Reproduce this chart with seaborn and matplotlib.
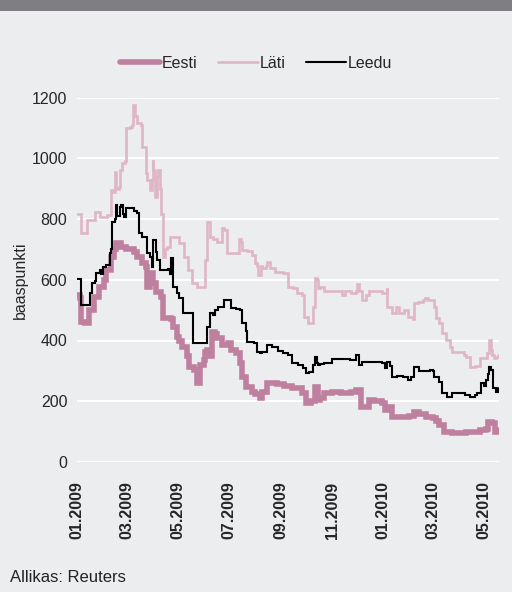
import numpy as np
import pandas as pd
import matplotlib
matplotlib.use("Agg")
import matplotlib.pyplot as plt
from matplotlib.lines import Line2D
import seaborn as sns

# ---------------- data ----------------
lati_dates = ["2009-01-01","2009-01-03","2009-01-06","2009-01-12","2009-01-13","2009-01-21","2009-01-22","2009-01-27",
              "2009-01-28","2009-02-04","2009-02-06","2009-02-10","2009-02-11","2009-02-13","2009-02-15","2009-02-17",
              "2009-02-20","2009-02-21","2009-02-24","2009-02-27","2009-02-28","2009-03-05","2009-03-07","2009-03-09",
              "2009-03-11","2009-03-13","2009-03-18","2009-03-19","2009-03-20","2009-03-24","2009-03-25","2009-03-29",
              "2009-03-31","2009-04-01","2009-04-02","2009-04-04","2009-04-06","2009-04-08","2009-04-10","2009-04-11",
              "2009-04-13","2009-04-16","2009-04-18","2009-04-22","2009-04-28","2009-05-03","2009-05-09","2009-05-13",
              "2009-05-18","2009-05-24","2009-05-30","2009-06-02","2009-06-05","2009-06-08","2009-06-12","2009-06-17",
              "2009-06-23","2009-06-25","2009-06-29","2009-07-08","2009-07-13","2009-07-15","2009-07-17","2009-07-23",
              "2009-07-28","2009-08-01","2009-08-04","2009-08-05","2009-08-08","2009-08-10","2009-08-14","2009-08-16",
              "2009-08-19","2009-08-25","2009-09-03","2009-09-09","2009-09-10","2009-09-15","2009-09-20","2009-09-26",
              "2009-09-29","2009-10-03","2009-10-07","2009-10-09","2009-10-12","2009-10-14","2009-10-15","2009-10-18",
              "2009-10-20",
              "2009-10-23","2009-11-07","2009-11-13","2009-11-17","2009-11-23","2009-11-29","2009-12-01","2009-12-03",
              "2009-12-07","2009-12-12","2009-12-15","2009-12-30","2010-01-05","2010-01-06","2010-01-11","2010-01-12",
              "2010-01-16","2010-01-20","2010-01-26","2010-01-30","2010-02-01","2010-02-05","2010-02-07","2010-02-11",
              "2010-02-17","2010-02-20","2010-02-23","2010-02-27","2010-03-03","2010-03-05","2010-03-09","2010-03-12",
              "2010-03-17","2010-03-21","2010-03-24","2010-04-02","2010-04-07","2010-04-10","2010-04-14","2010-04-20",
              "2010-04-26","2010-05-01","2010-05-05","2010-05-07","2010-05-10","2010-05-11","2010-05-13","2010-05-16",
              "2010-05-18"]
lati_values = [818, 818, 753, 753, 796, 796, 822, 822,
               806, 806, 812, 812, 895, 890, 954, 900,
               905, 960, 983, 990, 1099, 1102, 1110, 1174,
               1140, 1115, 1110, 1053, 1037, 950, 928, 895,
               930, 994, 960, 872, 938, 961, 900, 818,
               674, 700, 707, 740, 740, 720, 674, 632,
               589, 576, 576, 664, 790, 740, 735, 725,
               770, 765, 687, 687, 733, 725, 697, 695,
               681, 654, 645, 615, 645, 640, 645, 658,
               638, 625, 622, 622, 576, 572, 556, 550,
               477, 457, 457, 510, 605, 600, 572, 576,
               np.nan,
               562, 562, 549, 562, 556, 562, 586, 562,
               533, 549, 562, 556, 572, 510, 506, 490,
               510, 490, 500, 477, 477, 470, 523, 526,
               533, 539, 533, 533, 510, 474, 457, 424,
               401, 378, 362, 362, 352, 346, 313, 316,
               342, 342, 360, 401, 370, 352, 342, 345,
               352]

leedu_dates = ["2009-01-01","2009-01-03","2009-01-06","2009-01-12","2009-01-16","2009-01-19","2009-01-22","2009-01-24",
               "2009-01-28","2009-01-30","2009-02-01","2009-02-05","2009-02-09","2009-02-11","2009-02-12","2009-02-15",
               "2009-02-16","2009-02-18","2009-02-21","2009-02-23","2009-02-25","2009-02-26","2009-03-01","2009-03-08",
               "2009-03-10","2009-03-13","2009-03-16","2009-03-20","2009-03-25","2009-03-29","2009-03-31","2009-04-02",
               "2009-04-05","2009-04-06","2009-04-10","2009-04-13","2009-04-19","2009-04-22","2009-04-23","2009-04-25",
               "2009-04-30","2009-05-03","2009-05-07","2009-05-18","2009-05-19","2009-06-04","2009-06-05","2009-06-08",
               "2009-06-12","2009-06-14","2009-06-18","2009-06-23","2009-06-25","2009-07-01","2009-07-03","2009-07-09",
               "2009-07-14","2009-07-17","2009-07-21","2009-07-23","2009-07-31","2009-08-04","2009-08-07","2009-08-10",
               "2009-08-15","2009-08-21","2009-08-28","2009-09-03","2009-09-09","2009-09-14","2009-09-21","2009-09-27",
               "2009-10-01","2009-10-05","2009-10-09","2009-10-12","2009-10-14","2009-10-15","2009-10-18",
               "2009-10-20",
               "2009-10-23","2009-11-01","2009-11-14","2009-11-22","2009-11-24","2009-11-30","2009-12-03","2009-12-07",
               "2009-12-15","2009-12-30","2010-01-03","2010-01-06","2010-01-09","2010-01-11","2010-01-17","2010-01-24",
               "2010-01-30","2010-02-03","2010-02-07","2010-02-11","2010-02-13","2010-02-19","2010-02-26","2010-03-01",
               "2010-03-03","2010-03-09","2010-03-12","2010-03-18","2010-03-24","2010-04-02","2010-04-08","2010-04-14",
               "2010-04-20","2010-04-23","2010-04-28","2010-05-01","2010-05-04","2010-05-06","2010-05-07","2010-05-10",
               "2010-05-12","2010-05-16","2010-05-18"]
leedu_values = [601, 601, 516, 516, 556, 589, 595, 622,
                632, 620, 641, 648, 687, 700, 790, 800,
                845, 810, 840, 845, 815, 806, 836, 836,
                825, 819, 753, 740, 687, 674, 641, 730,
                690, 664, 632, 632, 635, 620, 671, 576,
                556, 539, 490, 490, 391, 391, 444, 490,
                484, 500, 510, 510, 533, 533, 506, 505,
                500, 457, 430, 395, 391, 362, 358, 362,
                385, 378, 365, 358, 352, 326, 319, 310,
                293, 296, 320, 346, 325, 319, 322,
                np.nan,
                326, 339, 339, 336, 336, 352, 319, 329,
                329, 326, 309, 329, 315, 280, 283, 280,
                270, 280, 313, 313, 300, 300, 303, 300,
                280, 263, 227, 214, 227, 227, 222, 214,
                222, 227, 260, 250, 270, 290, 313, 303,
                244, 230, 244]

eesti_dates = ["2009-01-01","2009-01-04","2009-01-06","2009-01-11","2009-01-15","2009-01-21","2009-01-27","2009-02-02",
               "2009-02-05","2009-02-11","2009-02-14","2009-02-16","2009-02-22","2009-03-01","2009-03-07","2009-03-10",
               "2009-03-13","2009-03-19","2009-03-24","2009-03-25","2009-03-29","2009-03-31","2009-04-02","2009-04-05",
               "2009-04-11","2009-04-13","2009-04-14","2009-04-23","2009-04-26","2009-04-30","2009-05-03","2009-05-06",
               "2009-05-12","2009-05-15","2009-05-21","2009-05-24","2009-05-27","2009-05-28","2009-06-01","2009-06-02",
               "2009-06-05","2009-06-08","2009-06-11","2009-06-14","2009-06-17","2009-06-23","2009-06-30","2009-07-04",
               "2009-07-10","2009-07-14","2009-07-17","2009-07-22","2009-07-29","2009-08-01","2009-08-07","2009-08-10",
               "2009-08-15","2009-08-27","2009-09-05","2009-09-14","2009-09-26","2009-10-01","2009-10-07","2009-10-12",
               "2009-10-15","2009-10-18",
               "2009-10-20",
               "2009-10-22","2009-11-01","2009-11-12","2009-11-24","2009-11-30","2009-12-06","2009-12-15","2009-12-21",
               "2009-12-30","2010-01-03","2010-01-06","2010-01-12","2010-01-20","2010-02-01","2010-02-07","2010-02-13",
               "2010-02-21","2010-03-01","2010-03-05","2010-03-09","2010-03-15","2010-03-24","2010-04-10","2010-04-26",
               "2010-05-04","2010-05-06","2010-05-11","2010-05-14","2010-05-18"]
eesti_values = [549, 540, 461, 457, 500, 543, 576, 599,
                632, 674, 700, 720, 707, 700, 700, 690,
                674, 654, 641, 576, 600, 622, 590, 559,
                543, 530, 474, 470, 444, 411, 400, 378,
                350, 313, 303, 260, 260, 319, 336, 362,
                370, 350, 428, 420, 408, 385, 391, 368,
                358, 326, 280, 247, 230, 225, 211, 230,
                260, 257, 250, 244, 227, 194, 201, 247,
                204, 210,
                np.nan,
                227, 230, 227, 230, 237, 181, 204, 200,
                194, 171, 181, 148, 148, 151, 164, 158,
                148, 145, 135, 122, 99, 95, 99, 105,
                109, 132, 128, 99, 105]

series_names = ["Eesti", "Läti", "Leedu"]
y_ticks = [0, 200, 400, 600, 800, 1000, 1200]
x_tick_dates = ["2009-01-01", "2009-03-01", "2009-05-01", "2009-07-01", "2009-09-01",
                "2009-11-01", "2010-01-01", "2010-03-01", "2010-05-01"]
x_tick_labels = ["01.2009", "03.2009", "05.2009", "07.2009", "09.2009",
                 "11.2009", "01.2010", "03.2010", "05.2010"]

# ---------------- styling ----------------
BG = "#ecedef"
BAND = "#7f7e83"
colors = {"Eesti": "#bf7f9e", "Läti": "#dfb6c6", "Leedu": "#000000"}
widths = {"Eesti": 4.0, "Läti": 1.9, "Leedu": 1.5}

sns.set_theme(style="white")
plt.rcParams["font.family"] = ["Liberation Sans", "DejaVu Sans"]

fig = plt.figure(figsize=(5.12, 5.92), dpi=100, facecolor=BG)
fig.patches.append(plt.Rectangle((0, 1 - 11 / 592), 1, 11 / 592, transform=fig.transFigure,
                                 facecolor=BAND, edgecolor="none", zorder=0))
ax = fig.add_axes([77 / 512, 1 - 462 / 592, (499 - 77) / 512, (462 - 97.5) / 592])
ax.set_facecolor(BG)

data = {
    "Läti": (lati_dates, lati_values),
    "Leedu": (leedu_dates, leedu_values),
    "Eesti": (eesti_dates, eesti_values),
}
order = ["Läti", "Eesti", "Leedu"]
for i, name in enumerate(order):
    d, v = data[name]
    df = pd.DataFrame({"date": pd.to_datetime(d), "value": v})
    sns.lineplot(data=df, x="date", y="value", ax=ax, color=colors[name],
                 linewidth=widths[name], zorder=3 + i, legend=False, estimator=None,
                 drawstyle="steps-post", solid_joinstyle="miter")

ax.set_ylim(0, 1200)
ax.set_xlim(pd.Timestamp("2009-01-01"), pd.Timestamp("2010-05-19"))
ax.set_yticks(y_ticks)
ax.set_yticklabels([str(t) for t in y_ticks], fontsize=11.5)
ax.set_xticks(pd.to_datetime(x_tick_dates))
ax.set_xticklabels(x_tick_labels, rotation=90, fontsize=11.5, fontweight="bold")
ax.tick_params(axis="x", length=0, pad=14)
ax.tick_params(axis="y", length=0, pad=7)
ax.grid(axis="y", color="white", linewidth=1.5)
ax.grid(axis="x", visible=False)
ax.set_axisbelow(True)
for s in ax.spines.values():
    s.set_visible(False)
ax.set_xlabel("")
ax.set_ylabel("")

fig.text(20 / 512, 1 - 280 / 592, "baaspunkti", rotation=90, ha="center", va="center", fontsize=11.5)
fig.text(10 / 512, 1 - 578 / 592, "Allikas: Reuters", ha="left", va="center", fontsize=12, color="#222222")

handles = [Line2D([0], [0], color=colors[n], linewidth=widths[n]) for n in series_names]
fig.legend(handles, series_names, loc="center", bbox_to_anchor=(0.5, 1 - 63 / 592), ncol=3,
           frameon=False, fontsize=11.5, handlelength=2.5, handletextpad=0.1, columnspacing=1.3)

fig.savefig("out.png", dpi=100, facecolor=BG)
